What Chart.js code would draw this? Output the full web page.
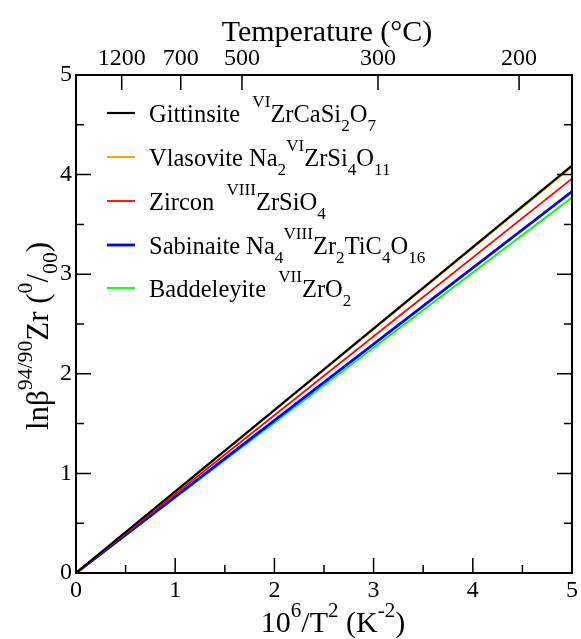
<!DOCTYPE html>
<html><head><meta charset="utf-8">
<script src="https://cdn.jsdelivr.net/npm/chart.js@4/dist/chart.umd.min.js"></script>
<style>html,body{margin:0;padding:0;background:#fff;}#wrap{width:581px;height:639px;}</style>
</head><body><div id="wrap"><canvas id="c" width="581" height="639"></canvas></div>
<script>
// ---- data ----
const xValues = [0, 5];
const gittinsite = [0, 4.09];
const vlasovite = [0, 4.08];
const zircon = [0, 3.96];
const sabinaite = [0, 3.83];
const baddeleyite = [0, 3.77];
const xTickValues = [0, 1, 2, 3, 4, 5];
const yTickValues = [0, 1, 2, 3, 4, 5];
const tempLabelsC = [1200, 700, 500, 300, 200];
// position of temperature ticks on the 10^6/T^2 axis
const tempPositions = tempLabelsC.map(c => 1e6 / Math.pow(c + 273.15, 2));

const seriesNames = ['Gittinsite', 'Vlasovite', 'Zircon', 'Sabinaite', 'Baddeleyite'];
const seriesValues = [gittinsite, vlasovite, zircon, sabinaite, baddeleyite];
const seriesColors = ['#000000', '#ffa500', '#ff0000', '#0000ff', '#00ff00'];
const seriesWidths = [2.2, 2, 1.8, 2.8, 1.8];
const legendRich = [
  [['Gittinsite ', 'n'], ['VI', 'sup'], ['ZrCaSi', 'n'], ['2', 'sub'], ['O', 'n'], ['7', 'sub']],
  [['Vlasovite Na', 'n'], ['2', 'sub'], ['VI', 'sup'], ['ZrSi', 'n'], ['4', 'sub'], ['O', 'n'], ['11', 'sub']],
  [['Zircon ', 'n'], ['VIII', 'sup'], ['ZrSiO', 'n'], ['4', 'sub']],
  [['Sabinaite Na', 'n'], ['4', 'sub'], ['VIII', 'sup'], ['Zr', 'n'], ['2', 'sub'], ['TiC', 'n'], ['4', 'sub'], ['O', 'n'], ['16', 'sub']],
  [['Baddeleyite ', 'n'], ['VII', 'sup'], ['ZrO', 'n'], ['2', 'sub']]
];
const xTitleRich = [['10', 'n'], ['6', 'sup'], ['/T', 'n'], ['2', 'sup'], [' (K', 'n'], ['-2', 'sup'], [')', 'n']];
const yTitleRich = [['ln\u03b2', 'n'], ['94/90', 'sup'], ['Zr (', 'n'], ['0', 'sup'], ['/', 'n'], ['00', 'sub'], [')', 'n']];
const topTitle = 'Temperature (\u00b0C)';

const FONT = "'Liberation Serif', 'Times New Roman', serif";
const SCRIPT = 0.7;

function segGap(segs, i) {
  // small extra gap after a trailing space, as in the original typesetting
  return (i > 0 && segs[i - 1][0].endsWith(' ')) ? 6 : 0;
}
function richWidth(ctx, segs, size) {
  let w = 0;
  segs.forEach(([t, k], i) => {
    const fs = k === 'n' ? size : size * SCRIPT;
    ctx.font = fs + 'px ' + FONT;
    w += ctx.measureText(t).width + segGap(segs, i);
  });
  return w;
}
function drawRich(ctx, segs, x, y, size, supDy, subDy) {
  let cx = x;
  segs.forEach(([t, k], i) => {
    let fs = size, dy = 0;
    if (k === 'sup') { fs = size * SCRIPT; dy = -size * (supDy || 0.55); }
    else if (k === 'sub') { fs = size * SCRIPT; dy = size * (subDy || 0.33); }
    cx += segGap(segs, i);
    ctx.font = fs + 'px ' + FONT;
    ctx.fillText(t, cx, y + dy);
    cx += ctx.measureText(t).width;
  });
}

const decor = {
  id: 'decor',
  afterDraw(chart) {
    const ctx = chart.ctx;
    const a = chart.chartArea;
    const xs = chart.scales.x, ys = chart.scales.y, xt = chart.scales.xTop;
    ctx.save();
    ctx.strokeStyle = '#000';
    ctx.fillStyle = '#000';
    // inward ticks
    ctx.lineWidth = 1.5;
    ctx.beginPath();
    for (let v = 0; v <= 5.0001; v += 0.5) {
      const major = Math.abs(v - Math.round(v)) < 1e-6;
      const L = major ? 15 : 8;
      const px = xs.getPixelForValue(v);
      ctx.moveTo(px, a.bottom); ctx.lineTo(px, a.bottom - L);
      const py = ys.getPixelForValue(v);
      ctx.moveTo(a.left, py); ctx.lineTo(a.left + L, py);
      ctx.moveTo(a.right, py); ctx.lineTo(a.right - L, py);
    }
    tempPositions.forEach(p => {
      const px = xt.getPixelForValue(p);
      ctx.moveTo(px, a.top); ctx.lineTo(px, a.top + 15);
    });
    ctx.stroke();
    // frame
    ctx.lineWidth = 2;
    ctx.strokeRect(a.left, a.top, a.right - a.left, a.bottom - a.top);
    // titles
    ctx.textBaseline = 'alphabetic';
    ctx.textAlign = 'left';
    const cxm = (a.left + a.right) / 2;
    ctx.font = '30px ' + FONT;
    const tw = ctx.measureText(topTitle).width;
    ctx.fillText(topTitle, cxm - tw / 2 + 3, 41);
    const xw = richWidth(ctx, xTitleRich, 30);
    drawRich(ctx, xTitleRich, cxm - xw / 2 + 9, 632, 30, 0.5);
    const yw = richWidth(ctx, yTitleRich, 31);
    ctx.save();
    ctx.translate(48, (a.top + a.bottom) / 2 + 12);
    ctx.rotate(-Math.PI / 2);
    drawRich(ctx, yTitleRich, -yw / 2, 0, 31, 0.52, 0.3);
    ctx.restore();
    // legend
    const rows = [113, 157, 201, 245, 288];
    legendRich.forEach((segs, i) => {
      const y = rows[i];
      ctx.strokeStyle = seriesColors[i];
      ctx.lineWidth = seriesWidths[i];
      ctx.beginPath();
      ctx.moveTo(107, y); ctx.lineTo(135, y);
      ctx.stroke();
      ctx.fillStyle = '#000';
      drawRich(ctx, segs, 149, y + 9, 24.5, 0.62, 0.36);
    });
    ctx.restore();
  }
};

const datasets = seriesNames.map((name, i) => ({
  label: name,
  data: xValues.map((x, j) => ({ x: x, y: seriesValues[i][j] })),
  borderColor: seriesColors[i],
  backgroundColor: seriesColors[i],
  borderWidth: seriesWidths[i],
  pointRadius: 0,
  fill: false,
  tension: 0
}));

const tickFont = { family: FONT, size: 24 };

new Chart(document.getElementById('c'), {
  type: 'line',
  data: { datasets },
  plugins: [decor],
  options: {
    responsive: false,
    animation: false,
    devicePixelRatio: 1,
    layout: { padding: { left: 0, right: 7, top: 0, bottom: 0 } },
    plugins: { legend: { display: false }, tooltip: { enabled: false } },
    scales: {
      x: {
        type: 'linear', position: 'bottom', min: 0, max: 5,
        afterBuildTicks: s => { s.ticks = xTickValues.map(v => ({ value: v })); },
        ticks: { font: tickFont, color: '#000', padding: 3, maxRotation: 0, minRotation: 0, autoSkip: false },
        grid: { display: false, drawTicks: false },
        border: { display: false },
        afterFit: s => { s.height = 66; }
      },
      xTop: {
        type: 'linear', position: 'top', min: 0, max: 5,
        afterBuildTicks: s => { s.ticks = tempPositions.map(v => ({ value: v })); },
        ticks: { font: tickFont, color: '#000', padding: 2, maxRotation: 0, minRotation: 0, autoSkip: false,
          callback: (v, i) => String(tempLabelsC[i]) },
        grid: { display: false, drawTicks: false },
        border: { display: false },
        afterFit: s => { s.height = 75; }
      },
      y: {
        type: 'linear', position: 'left', min: 0, max: 5,
        afterBuildTicks: s => { s.ticks = yTickValues.map(v => ({ value: v })); },
        ticks: { font: tickFont, color: '#000', padding: 4, autoSkip: false },
        grid: { display: false, drawTicks: false },
        border: { display: false },
        afterFit: s => { s.width = 76; }
      }
    }
  }
});
</script>
</body></html>
